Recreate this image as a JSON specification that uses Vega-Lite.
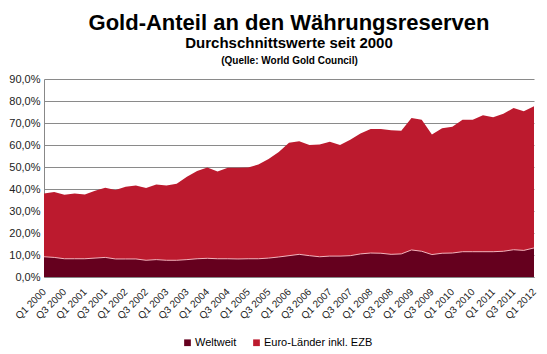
{
  "$schema": "https://vega.github.io/schema/vega-lite/v6.json",
  "width": 490,
  "height": 198,
  "autosize": "none",
  "padding": {"left": 44, "top": 79, "right": 13, "bottom": 77},
  "background": "white",
  "title": {
    "text": "Gold-Anteil an den Währungsreserven",
    "subtitle": "Durchschnittswerte seit 2000",
    "anchor": "middle",
    "font": "Liberation Sans",
    "fontSize": 22,
    "fontWeight": "bold",
    "color": "#000000",
    "subtitleFont": "Liberation Sans",
    "subtitleFontSize": 15,
    "subtitleFontWeight": "bold",
    "subtitleColor": "#000000",
    "subtitlePadding": 1,
    "offset": 3
  },
  "config": {
    "view": {"stroke": null},
    "font": "Liberation Sans"
  },
  "datasets": {
    "d": [
      {"q": "Q1 2000", "Weltweit": 9.2, "Euro": 38.0},
      {"q": "Q2 2000", "Weltweit": 8.9, "Euro": 38.6},
      {"q": "Q3 2000", "Weltweit": 8.3, "Euro": 37.4},
      {"q": "Q4 2000", "Weltweit": 8.3, "Euro": 38.0},
      {"q": "Q1 2001", "Weltweit": 8.3, "Euro": 37.5},
      {"q": "Q2 2001", "Weltweit": 8.6, "Euro": 39.2},
      {"q": "Q3 2001", "Weltweit": 8.9, "Euro": 40.6},
      {"q": "Q4 2001", "Weltweit": 8.2, "Euro": 39.5},
      {"q": "Q1 2002", "Weltweit": 8.2, "Euro": 41.0},
      {"q": "Q2 2002", "Weltweit": 8.2, "Euro": 41.6},
      {"q": "Q3 2002", "Weltweit": 7.6, "Euro": 40.4},
      {"q": "Q4 2002", "Weltweit": 7.9, "Euro": 42.1},
      {"q": "Q1 2003", "Weltweit": 7.6, "Euro": 41.6},
      {"q": "Q2 2003", "Weltweit": 7.6, "Euro": 42.4},
      {"q": "Q3 2003", "Weltweit": 7.9, "Euro": 45.6},
      {"q": "Q4 2003", "Weltweit": 8.3, "Euro": 48.2},
      {"q": "Q1 2004", "Weltweit": 8.5, "Euro": 49.8},
      {"q": "Q2 2004", "Weltweit": 8.3, "Euro": 47.9},
      {"q": "Q3 2004", "Weltweit": 8.3, "Euro": 49.7},
      {"q": "Q4 2004", "Weltweit": 8.2, "Euro": 49.7},
      {"q": "Q1 2005", "Weltweit": 8.3, "Euro": 49.8},
      {"q": "Q2 2005", "Weltweit": 8.3, "Euro": 51.1},
      {"q": "Q3 2005", "Weltweit": 8.6, "Euro": 53.6},
      {"q": "Q4 2005", "Weltweit": 9.1, "Euro": 56.8},
      {"q": "Q1 2006", "Weltweit": 9.7, "Euro": 61.0},
      {"q": "Q2 2006", "Weltweit": 10.3, "Euro": 61.7},
      {"q": "Q3 2006", "Weltweit": 9.7, "Euro": 60.0},
      {"q": "Q4 2006", "Weltweit": 9.2, "Euro": 60.2},
      {"q": "Q1 2007", "Weltweit": 9.5, "Euro": 61.5},
      {"q": "Q2 2007", "Weltweit": 9.5, "Euro": 60.0},
      {"q": "Q3 2007", "Weltweit": 9.7, "Euro": 62.4},
      {"q": "Q4 2007", "Weltweit": 10.5, "Euro": 65.2},
      {"q": "Q1 2008", "Weltweit": 10.9, "Euro": 67.3},
      {"q": "Q2 2008", "Weltweit": 10.8, "Euro": 67.3},
      {"q": "Q3 2008", "Weltweit": 10.3, "Euro": 66.7},
      {"q": "Q4 2008", "Weltweit": 10.5, "Euro": 66.5},
      {"q": "Q1 2009", "Weltweit": 12.3, "Euro": 72.3},
      {"q": "Q2 2009", "Weltweit": 11.7, "Euro": 71.5},
      {"q": "Q3 2009", "Weltweit": 10.2, "Euro": 64.8},
      {"q": "Q4 2009", "Weltweit": 10.8, "Euro": 67.6},
      {"q": "Q1 2010", "Weltweit": 10.9, "Euro": 68.3},
      {"q": "Q2 2010", "Weltweit": 11.5, "Euro": 71.5},
      {"q": "Q3 2010", "Weltweit": 11.5, "Euro": 71.5},
      {"q": "Q4 2010", "Weltweit": 11.5, "Euro": 73.5},
      {"q": "Q1 2011", "Weltweit": 11.5, "Euro": 72.6},
      {"q": "Q2 2011", "Weltweit": 11.7, "Euro": 74.2},
      {"q": "Q3 2011", "Weltweit": 12.4, "Euro": 76.8},
      {"q": "Q4 2011", "Weltweit": 12.1, "Euro": 75.3},
      {"q": "Q1 2012", "Weltweit": 13.2, "Euro": 77.6}
    ]
  },
  "data": {"name": "d"},
  "transform": [
    {"fold": ["Weltweit", "Euro"], "as": ["key", "value"]},
    {"lookup": "key", "from": {"data": {"values": [{"key": "Weltweit", "series": "Weltweit"}, {"key": "Euro", "series": "Euro-Länder inkl. EZB"}]}, "key": "key", "fields": ["series"]}}
  ],
  "resolve": {"axis": {"x": "independent"}},
  "layer": [
    {
      "transform": [{"filter": "datum.key === 'Euro'"}],
      "mark": {"type": "area", "interpolate": "linear"},
      "encoding": {
        "x": {
          "field": "q", "type": "ordinal", "sort": null,
          "scale": {"type": "point", "padding": 0},
          "axis": {
            "orient": "bottom",
            "title": null,
            "values": ["Q1 2000","Q3 2000","Q1 2001","Q3 2001","Q1 2002","Q3 2002","Q1 2003","Q3 2003","Q1 2004","Q3 2004","Q1 2005","Q3 2005","Q1 2006","Q3 2006","Q1 2007","Q3 2007","Q1 2008","Q3 2008","Q1 2009","Q3 2009","Q1 2010","Q3 2010","Q1 2011","Q3 2011","Q1 2012"],
            "labelAngle": -45,
            "labelAlign": "right",
            "labelBaseline": "middle",
            "labelFontSize": 10,
            "labelFont": "Liberation Sans",
            "labelColor": "#222222",
            "labelPadding": 13,
            "ticks": false,
            "grid": false,
            "domainColor": "#888888",
            "labelOverlap": false
          }
        },
        "y": {
          "field": "value", "type": "quantitative", "stack": null,
          "scale": {"domain": [0, 90], "nice": false},
          "axis": {
            "title": null,
            "values": [0, 10, 20, 30, 40, 50, 60, 70, 80, 90],
            "tickCount": 10,
            "labelOverlap": false,
            "labelExpr": "replace(format(datum.value, '.1f'), '.', ',') + '%'",
            "labelFontSize": 11,
            "labelFont": "Liberation Sans",
            "labelColor": "#222222",
            "labelPadding": 4,
            "ticks": false,
            "grid": true,
            "gridColor": "#8a8a8a",
            "gridWidth": 1,
            "domainColor": "#888888"
          }
        },
        "color": {
          "field": "series", "type": "nominal",
          "scale": {"domain": ["Weltweit", "Euro-Länder inkl. EZB"], "range": ["#65001e", "#bc1a2e"]},
          "legend": {
            "title": null,
            "orient": "none",
            "direction": "horizontal",
            "legendX": 138,
            "legendY": 258,
            "symbolType": "square",
            "symbolSize": 45,
            "symbolStrokeWidth": 0,
            "labelFontSize": 11,
            "labelFont": "Liberation Sans",
            "labelColor": "#000000",
            "labelOffset": 2,
            "columnPadding": 14
          }
        }
      }
    },
    {
      "transform": [{"filter": "datum.key === 'Weltweit'"}],
      "mark": {"type": "area", "interpolate": "linear"},
      "encoding": {
        "x": {"field": "q", "type": "ordinal", "sort": null, "axis": null},
        "y": {"field": "value", "type": "quantitative", "stack": null},
        "color": {"field": "series", "type": "nominal"}
      }
    },
    {
      "transform": [{"filter": "datum.key === 'Weltweit'"}],
      "mark": {"type": "line", "interpolate": "linear", "stroke": "#f2b3bc", "strokeWidth": 1},
      "encoding": {
        "x": {
          "field": "q", "type": "ordinal", "sort": null,
          "axis": {
            "orient": "top",
            "labels": false,
            "ticks": false,
            "domain": false,
            "grid": false,
            "title": "(Quelle: World Gold Council)",
            "titleFont": "Liberation Sans",
            "titleFontSize": 10,
            "titleFontWeight": "bold",
            "titleColor": "#000000",
            "titlePadding": 14
          }
        },
        "y": {"field": "value", "type": "quantitative", "stack": null}
      }
    }
  ]
}
